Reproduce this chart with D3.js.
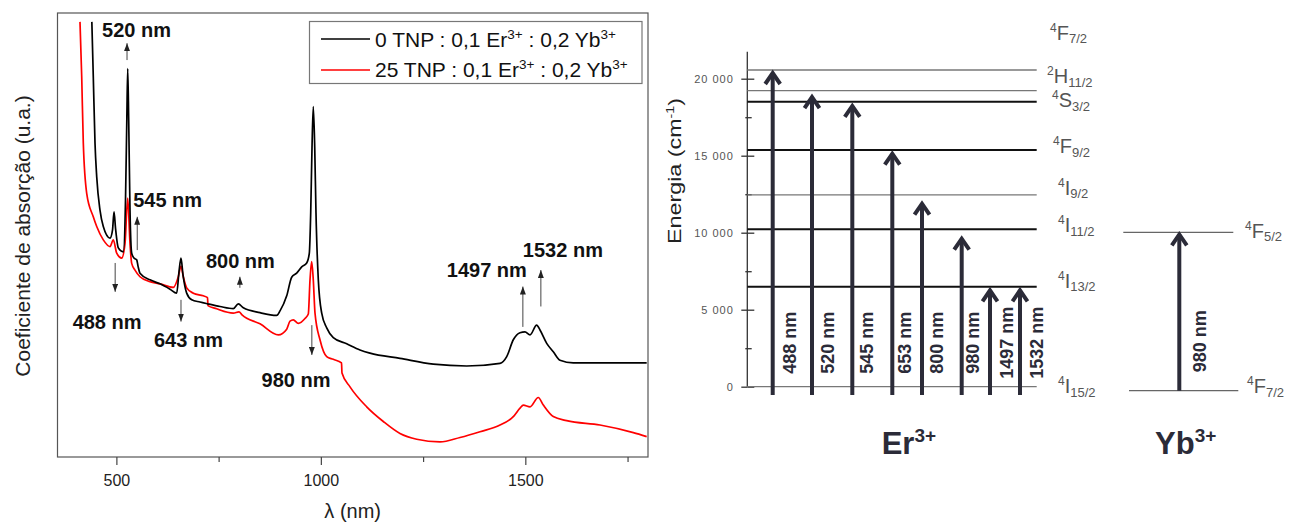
<!DOCTYPE html>
<html>
<head>
<meta charset="utf-8">
<script src="https://cdn.jsdelivr.net/npm/d3@7"></script>
<style>
  html, body { margin: 0; padding: 0; background: #fff; }
  svg { display: block; font-family: "Liberation Sans", Arial, Helvetica, sans-serif; }
</style>
</head>
<body>
<svg id="fig" width="1300" height="527"></svg>
<script>
// ---- absorption spectra: wavelength (nm) / absorption (a.u.) ----
const tnp0Nm = [440, 443.5, 447.7, 451.9, 459.9, 468, 484.4, 490.5, 494.2, 497.8, 504.7, 516.9, 522.3, 525.5,
  527.7, 530.1, 533.3, 537.4, 543.1, 549.7, 552.9, 557.7, 582.2, 606.7, 631.1, 647.5, 653.1, 658, 662.9, 671.9,
  684.2, 704.5, 723.3, 753.4, 785.9, 798.1, 810.4, 851.2, 892, 900.1, 916.5, 928.7, 940.9, 953.2, 965.4, 971.8,
  975.2, 978.4, 981.5, 985, 988.1, 993.8, 1002.1, 1014.3, 1030.4, 1063.2, 1095.7, 1120.2, 1193.5, 1275, 1356.7,
  1438.1, 1454.5, 1470.6, 1487, 1499.2, 1511.5, 1527.8, 1535.9, 1552.3, 1568.4, 1584.8, 1617.3, 1682.6, 1796.8];
const tnp0Abs = [9.80, 8.57, 7.07, 6.31, 5.56, 5.19, 4.93, 5.11, 5.52, 5.16, 4.71, 4.62, 5.79, 7.59,
  8.75, 7.59, 5.56, 4.59, 4.48, 4.44, 4.30, 4.14, 3.99, 3.90, 3.78, 3.69, 4.17, 4.48, 4.10, 3.69,
  3.54, 3.49, 3.45, 3.39, 3.34, 3.45, 3.36, 3.25, 3.19, 3.29, 3.63, 4.05, 4.14, 4.28, 4.37, 4.59,
  5.50, 6.98, 7.89, 6.98, 5.50, 3.99, 3.24, 2.91, 2.69, 2.55, 2.41, 2.34, 2.22, 2.09, 2.05,
  2.11, 2.26, 2.64, 2.80, 2.82, 2.75, 2.97, 2.86, 2.56, 2.37, 2.18, 2.12, 2.12, 2.12];

const tnp25Nm = [411, 415.2, 419.1, 427.4, 443.5, 451.9, 468, 484.4, 492.5, 500.8, 513, 521.1, 527.7, 533.3,
  537.4, 545.5, 557.7, 582.2, 606.7, 639.2, 651.4, 658, 663.6, 671.9, 688.1, 712.5, 722.8, 724, 745.3, 753.4,
  785.9, 799.8, 807.2, 851.2, 895.9, 916.5, 924.6, 932.6, 944.9, 961.2, 969.3, 973.5, 977.6, 981.5, 985.7,
  997.9, 1014.3, 1030.4, 1050.5, 1051.7, 1071.3, 1112.1, 1152.7, 1193.5, 1234.4, 1291.4, 1340.3, 1389.2,
  1438.1, 1470.6, 1487, 1495.1, 1511.5, 1531.7, 1544, 1568.4, 1601.2, 1682.6, 1764.1, 1796.8];
const tnp25Abs = [9.80, 8.57, 7.07, 5.94, 5.41, 5.19, 4.89, 4.74, 4.89, 4.59, 4.48, 4.81, 5.83, 4.81,
  4.36, 4.21, 4.06, 3.95, 3.90, 3.82, 4.06, 4.30, 4.06, 3.81, 3.69, 3.63, 3.59, 3.41, 3.34, 3.31,
  3.24, 3.27, 3.20, 3.00, 2.75, 2.88, 3.06, 3.09, 3.01, 3.12, 3.22, 3.99, 4.40, 3.99, 3.24,
  2.64, 2.26, 2.20, 2.12, 1.89, 1.58, 1.13, 0.80, 0.53, 0.40, 0.34, 0.44, 0.57,
  0.72, 0.91, 1.10, 1.17, 1.13, 1.34, 1.17, 0.91, 0.82, 0.72, 0.55, 0.46];

const seriesLabels = ["0 TNP", "25 TNP"];
const xTicks = [500, 1000, 1500];
const xMinorTicks = [750, 1250, 1750];

// peak annotations (nm, a.u.)
const peakText = ["520 nm", "545 nm", "800 nm", "488 nm", "643 nm", "980 nm", "1497 nm", "1532 nm"];
const peakArrowNm = [526, 551, 802, 497, 658, 978, 1494, 1538];
const peakArrowFrom = [8.94, 4.66, 3.81, 4.37, 3.54, 2.97, 2.93, 3.39];
const peakArrowTo = [9.32, 5.41, 4.06, 3.72, 3.05, 2.30, 3.84, 4.21];
const peakTextNm = [465, 541, 719, 393, 592, 855, 1308, 1494];
const peakTextAbs = [9.47, 5.62, 4.25, 2.88, 2.47, 1.58, 4.06, 4.51];

// ---- energy levels (cm-1) ----
const erTermMult = ["4", "2", "4", "4", "4", "4", "4", "4"];
const erTermL = ["F", "H", "S", "F", "I", "I", "I", "I"];
const erTermJ = ["7/2", "11/2", "3/2", "9/2", "9/2", "11/2", "13/2", "15/2"];
const erLevelE = [20565, 19220, 18505, 15370, 12450, 10220, 6495, 0];
const ybTermMult = ["4", "4"];
const ybTermL = ["F", "F"];
const ybTermJ = ["5/2", "7/2"];
const ybLevelE = [10015, -260];
const erTransLabel = ["488 nm", "520 nm", "545 nm", "653 nm", "800 nm", "980 nm", "1497 nm", "1532 nm"];
const erTransTopE = [20500, 18940, 18360, 15260, 12010, 9740, 6390, 6390];
const ybTransLabel = "980 nm";
const energyTicks = [0, 5000, 10000, 15000, 20000];
const energyMinorTicks = [2500, 7500, 12500, 17500];

// ---- layout / style ----
const erLevelBold = [false, false, true, true, false, true, true, false];
const erTermDy = [-30, -7.4, 5.3, 3, 0, 2.7, 1.3, 6.3];
const erTermX = [1050, 1047, 1052, 1053, 1058, 1058, 1058, 1058];
const ybTermDy = [5.5, 2.3];
const ybTermX = [1245, 1247];
const erArrowX = [772.7, 812, 852.3, 892.3, 922, 961.7, 990, 1020];
const erArrowTextX = [790, 828, 867, 904.5, 936.7, 973, 1006.7, 1036.7];
const ARROW = "#2b2b38";

const svg = d3.select("#fig");

/* ================= left: absorption spectra ================= */
const x = d3.scaleLinear().domain([356, 1800]).range([57.5, 648]);
const y = d3.scaleLinear().domain([0, 10]).range([457, 13]);

const left = svg.append("g");

const line = d3.line().x((d) => x(d[0])).y((d) => y(d[1])).curve(d3.curveMonotoneX);
left.append("path").datum(d3.zip(tnp25Nm, tnp25Abs))
  .attr("d", line).attr("fill", "none").attr("stroke", "#ff0000")
  .attr("stroke-width", 1.7).attr("stroke-linejoin", "round");
left.append("path").datum(d3.zip(tnp0Nm, tnp0Abs))
  .attr("d", line).attr("fill", "none").attr("stroke", "#000")
  .attr("stroke-width", 1.7).attr("stroke-linejoin", "round");

// frame
left.append("rect").attr("x", 57.5).attr("y", 13).attr("width", 590.5).attr("height", 444)
  .attr("fill", "none").attr("stroke", "#555").attr("stroke-width", 1.2);

const xAxis = left.append("g").attr("transform", "translate(0,457)")
  .call(d3.axisBottom(x).tickValues(xTicks).tickFormat(d3.format("d"))
    .tickSize(8).tickSizeOuter(0).tickPadding(10));
xAxis.select(".domain").remove();
xAxis.selectAll("line").attr("stroke", "#444").attr("stroke-width", 1.2);
xAxis.selectAll("text").attr("fill", "#222").style("font-size", "16px")
  .style("font-family", "'Liberation Sans', Arial, sans-serif");

const xMinor = left.append("g").attr("transform", "translate(0,457)")
  .call(d3.axisBottom(x).tickValues(xMinorTicks).tickSize(5).tickSizeOuter(0).tickFormat(""));
xMinor.select(".domain").remove();
xMinor.selectAll("line").attr("stroke", "#444").attr("stroke-width", 1.2);

left.append("text").attr("x", 352.7).attr("y", 518).attr("text-anchor", "middle")
  .attr("fill", "#222").style("font-size", "20px").text("λ (nm)");
left.append("text").attr("transform", "translate(30,236) rotate(-90)").attr("text-anchor", "middle")
  .attr("fill", "#222").style("font-size", "21px").text("Coeficiente de absorção (u.a.)");

// legend
const legend = left.append("g");
legend.append("rect").attr("x", 309.5).attr("y", 21.5).attr("width", 332.5).attr("height", 62)
  .attr("fill", "#fff").attr("stroke", "#777").attr("stroke-width", 1.2);
[["#000", 39, 46.7], ["#ff0000", 70, 77.3]].forEach(([c, ly, by], i) => {
  legend.append("line").attr("x1", 321).attr("x2", 370).attr("y1", ly).attr("y2", ly)
    .attr("stroke", c).attr("stroke-width", 1.6);
  const t = legend.append("text").attr("x", 375).attr("y", by).attr("fill", "#111").style("font-size", "21px");
  t.append("tspan").text(seriesLabels[i] + " : 0,1 Er");
  t.append("tspan").attr("dy", -8).style("font-size", "13.5px").text("3+");
  t.append("tspan").attr("dy", 8).text(" : 0,2 Yb");
  t.append("tspan").attr("dy", -8).style("font-size", "13.5px").text("3+");
});

// peak arrows + labels
const defs = svg.append("defs");
defs.append("marker").attr("id", "tri").attr("viewBox", "0 0 10 10")
  .attr("refX", 10).attr("refY", 5).attr("markerWidth", 8).attr("markerHeight", 6)
  .attr("markerUnits", "userSpaceOnUse").attr("orient", "auto").attr("preserveAspectRatio", "none")
  .append("path").attr("d", "M0,0L10,5L0,10z").attr("fill", "#222");

peakText.forEach((label, i) => {
  left.append("line")
    .attr("x1", x(peakArrowNm[i])).attr("x2", x(peakArrowNm[i]))
    .attr("y1", y(peakArrowFrom[i])).attr("y2", y(peakArrowTo[i]))
    .attr("stroke", "#444").attr("stroke-width", 1).attr("marker-end", "url(#tri)");
  left.append("text").attr("x", x(peakTextNm[i])).attr("y", y(peakTextAbs[i]))
    .attr("fill", "#111").style("font-size", "20px").style("font-weight", "bold").text(label);
});

/* ================= right: energy level diagram ================= */
const yE = d3.scaleLinear().domain([0, 20000]).range([386.7, 78.7]);
const AX = 747.3;
const right = svg.append("g");

const fmt = d3.formatLocale({ thousands: " ", grouping: [3], decimal: ".", currency: ["", ""] }).format(",");

right.append("line").attr("x1", AX).attr("x2", AX).attr("y1", yE(0)).attr("y2", yE(21750))
  .attr("stroke", "#333").attr("stroke-width", 1.3);

const eAxis = right.append("g").attr("transform", `translate(${AX},0)`)
  .call(d3.axisLeft(yE).tickValues(energyTicks).tickSize(6).tickPadding(7.5).tickFormat(fmt));
eAxis.select(".domain").remove();
eAxis.selectAll("line").attr("stroke", "#333").attr("stroke-width", 1.3);
eAxis.selectAll("text").attr("fill", "#555").style("font-size", "11px").style("letter-spacing", "1px")
  .style("font-family", "'Liberation Sans', Arial, sans-serif");
const eAxisR = right.append("g").attr("transform", `translate(${AX},0)`)
  .call(d3.axisRight(yE).tickValues(energyTicks).tickSize(7).tickFormat(""));
eAxisR.select(".domain").remove();
eAxisR.selectAll("line").attr("stroke", "#333").attr("stroke-width", 1.3);
[d3.axisLeft(yE).tickSize(2), d3.axisRight(yE).tickSize(4.4)].forEach((ax) => {
  const g = right.append("g").attr("transform", `translate(${AX},0)`)
    .call(ax.tickValues(energyMinorTicks).tickFormat(""));
  g.select(".domain").remove();
  g.selectAll("line").attr("stroke", "#333").attr("stroke-width", 1.3);
});

right.append("text").attr("transform", "translate(681,171) rotate(-90)").attr("text-anchor", "middle")
  .attr("fill", "#222").style("font-size", "18px")
  .attr("textLength", 146).attr("lengthAdjust", "spacingAndGlyphs")
  .call((t) => {
    t.append("tspan").text("Energia (cm");
    t.append("tspan").attr("dy", -7).style("font-size", "11px").text("-1");
    t.append("tspan").attr("dy", 7).text(")");
  });

function termLabel(g, tx, ty, mult, L, J) {
  const t = g.append("text").attr("x", tx).attr("y", ty).attr("fill", "#555").style("font-size", "20px");
  t.append("tspan").attr("dy", -8).style("font-size", "12px").text(mult);
  t.append("tspan").attr("dy", 8).style("font-size", "20px").text(L);
  t.append("tspan").attr("dy", 3.5).style("font-size", "13px").text(J);
}

// Er levels
erLevelE.forEach((E, i) => {
  right.append("line").attr("x1", AX).attr("x2", 1036.7).attr("y1", yE(E)).attr("y2", yE(E))
    .attr("stroke", erLevelBold[i] ? "#111" : "#777").attr("stroke-width", erLevelBold[i] ? 2 : 1.3);
  termLabel(right, erTermX[i], yE(E) + erTermDy[i], erTermMult[i], erTermL[i], erTermJ[i]);
});

// Yb levels
const ybX = [[1123.3, 1233.3], [1129, 1238.3]];
ybLevelE.forEach((E, i) => {
  right.append("line").attr("x1", ybX[i][0]).attr("x2", ybX[i][1]).attr("y1", yE(E)).attr("y2", yE(E))
    .attr("stroke", "#666").attr("stroke-width", 1.3);
  termLabel(right, ybTermX[i], yE(E) + ybTermDy[i], ybTermMult[i], ybTermL[i], ybTermJ[i]);
});

function upArrow(g, ax, E0, E1) {
  const top = yE(E1);
  g.append("line").attr("x1", ax).attr("x2", ax).attr("y1", yE(E0)).attr("y2", top + 2)
    .attr("stroke", ARROW).attr("stroke-width", 4);
  g.append("path").attr("d", `M${ax - 7.5},${top + 13}L${ax},${top + 2}L${ax + 7.5},${top + 13}`)
    .attr("fill", "none").attr("stroke", ARROW).attr("stroke-width", 4).attr("stroke-linejoin", "miter");
}
function arrowText(g, tx, E, label) {
  g.append("text").attr("transform", `translate(${tx},${yE(E)}) rotate(-90)`)
    .attr("text-anchor", "middle").attr("dominant-baseline", "central")
    .attr("fill", ARROW).style("font-size", "18px").style("font-weight", "bold").text(label);
}

erTransLabel.forEach((label, i) => {
  upArrow(right, erArrowX[i], -540, erTransTopE[i]);
  arrowText(right, erArrowTextX[i], 2850, label);
});
upArrow(right, 1179.3, ybLevelE[1], ybLevelE[0]);
arrowText(right, 1200, 2950, ybTransLabel);

[["Er", 881.7], ["Yb", 1155]].forEach(([ion, ix]) => {
  const t = right.append("text").attr("x", ix).attr("y", 454).attr("fill", ARROW)
    .style("font-size", "31px").style("font-weight", "bold");
  t.append("tspan").text(ion);
  t.append("tspan").attr("dy", -12).style("font-size", "19px").text("3+");
});
</script>
</body>
</html>
